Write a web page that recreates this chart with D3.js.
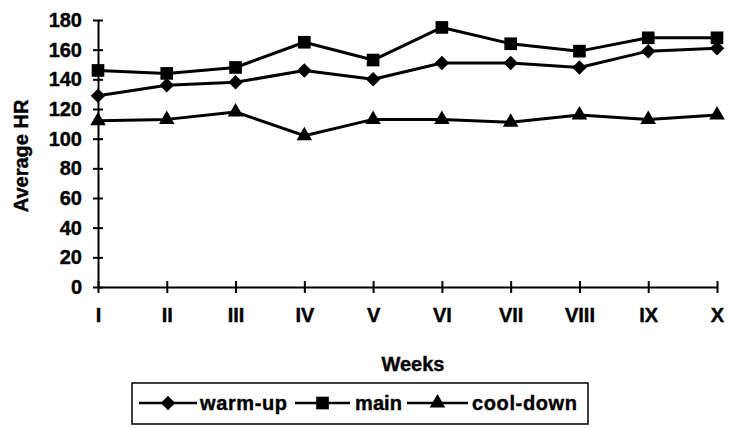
<!DOCTYPE html>
<html>
<head>
<meta charset="utf-8">
<script src="https://cdn.jsdelivr.net/npm/d3@7"></script>
<style>
  html, body { margin: 0; padding: 0; background: #fff; }
  svg { display: block; font-family: "Liberation Sans", Arial, sans-serif; }
  svg text { stroke: #000; stroke-width: 0.4px; }
</style>
</head>
<body>
<svg id="chart" width="729" height="428"></svg>
<script>
// Weekly average heart rate per session part
const weeks = ["I", "II", "III", "IV", "V", "VI", "VII", "VIII", "IX", "X"];
const warmUp = [129, 136, 138, 146, 140, 151, 151, 148, 159, 161];
const mainPart = [146, 144, 148, 165, 153, 175, 164, 159, 168, 168];
const coolDown = [112, 113, 118, 102, 113, 113, 111, 116, 113, 116];
const yTicks = [0, 20, 40, 60, 80, 100, 120, 140, 160, 180];

// Wide diamond: a square turned by 45 degrees
const wideDiamond = {
  draw(context, size) {
    const r = Math.sqrt(size / 2);
    context.moveTo(0, -r);
    context.lineTo(r, 0);
    context.lineTo(0, r);
    context.lineTo(-r, 0);
    context.closePath();
  }
};

const series = [
  { name: "warm-up", values: warmUp, symbol: wideDiamond, size: 105 },
  { name: "main", values: mainPart, symbol: d3.symbolSquare, size: 160 },
  { name: "cool-down", values: coolDown, symbol: d3.symbolTriangle, size: 105 }
];

const svg = d3.select("#chart");
const plotLeft = 98, plotRight = 717, plotTop = 20, plotBottom = 287;
const fontSize = 20;

const x = d3.scalePoint().domain(weeks).range([plotLeft, plotRight]).padding(0);
const y = d3.scaleLinear().domain([0, 180]).range([plotBottom, plotTop]);

// Y axis: ticks crossing the line
const yAxis = svg.append("g").attr("transform", `translate(${plotLeft},0)`)
  .call(d3.axisLeft(y).tickValues(yTicks).tickSize(5).tickSizeOuter(0).tickPadding(11));
yAxis.select(".domain").attr("stroke", "#000").attr("stroke-width", 2);
yAxis.selectAll(".tick line").attr("x2", 5).attr("x1", -5).attr("stroke-width", 2);
yAxis.selectAll(".tick text")
  .attr("font-size", fontSize).attr("font-weight", "bold").attr("fill", "#000");

// X axis
const xAxis = svg.append("g").attr("transform", `translate(0,${plotBottom})`)
  .call(d3.axisBottom(x).tickSize(6).tickSizeOuter(0).tickPadding(15));
xAxis.select(".domain").attr("stroke", "#000").attr("stroke-width", 2);
xAxis.selectAll(".tick line").attr("y1", -6).attr("y2", 6).attr("stroke-width", 2);
xAxis.selectAll(".tick text")
  .attr("font-size", fontSize).attr("font-weight", "bold").attr("fill", "#000");

// Axis titles
svg.append("text")
  .attr("transform", `translate(28,156) rotate(-90)`)
  .attr("text-anchor", "middle")
  .attr("font-size", fontSize).attr("font-weight", "bold")
  .text("Average HR");

svg.append("text")
  .attr("x", 413).attr("y", 371)
  .attr("text-anchor", "middle")
  .attr("font-size", fontSize).attr("font-weight", "bold")
  .text("Weeks");

// Lines and markers
const line = d3.line().x((d, i) => x(weeks[i])).y(d => y(d));
series.forEach(s => {
  svg.append("path")
    .datum(s.values)
    .attr("fill", "none").attr("stroke", "#000").attr("stroke-width", 3)
    .attr("stroke-linejoin", "round")
    .attr("d", line);
  svg.append("g").selectAll("path")
    .data(s.values)
    .join("path")
    .attr("transform", (d, i) => `translate(${x(weeks[i])},${y(d)})`)
    .attr("d", d3.symbol().type(s.symbol).size(s.size))
    .attr("fill", "#000");
});

// Legend
const legend = svg.append("g");
legend.append("rect")
  .attr("x", 132).attr("y", 383).attr("width", 456).attr("height", 41)
  .attr("fill", "none").attr("stroke", "#000").attr("stroke-width", 1.5);

const legendItems = [
  { s: series[0], x0: 139, x1: 197, tx: 200, w: 87 },
  { s: series[1], x0: 295, x1: 350, tx: 355, w: 47 },
  { s: series[2], x0: 407, x1: 468, tx: 472, w: 105 }
];
const ly = 403;
legendItems.forEach(it => {
  legend.append("line")
    .attr("x1", it.x0).attr("x2", it.x1).attr("y1", ly).attr("y2", ly)
    .attr("stroke", "#000").attr("stroke-width", 2.5);
  legend.append("path")
    .attr("transform", `translate(${(it.x0 + it.x1) / 2},${ly})`)
    .attr("d", d3.symbol().type(it.s.symbol).size(it.s.size))
    .attr("fill", "#000");
  legend.append("text")
    .attr("x", it.tx).attr("y", ly + 7)
    .attr("font-size", fontSize).attr("font-weight", "bold")
    .attr("textLength", it.w).attr("lengthAdjust", "spacing")
    .text(it.s.name);
});
</script>
</body>
</html>
